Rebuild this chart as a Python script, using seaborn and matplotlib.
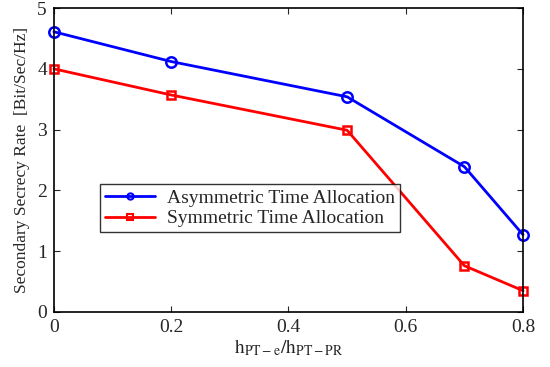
import matplotlib
matplotlib.use("Agg")
import matplotlib.pyplot as plt
from matplotlib.lines import Line2D
import seaborn as sns
import pandas as pd

ratio = [0, 0.2, 0.5, 0.7, 0.8]
asym = [4.61, 4.12, 3.54, 2.39, 1.27]
sym = [4.00, 3.57, 2.99, 0.76, 0.35]
labels = ["Asymmetric Time Allocation", "Symmetric Time Allocation"]
colors = ["#0000ff", "#ff0000"]
marks = ["o", "s"]

sns.set_theme(style="ticks")
plt.rcParams['font.family'] = ['Liberation Serif', 'DejaVu Serif']
plt.rcParams['mathtext.fontset'] = 'stix'

df = pd.DataFrame({
    "x": ratio * 2,
    "y": asym + sym,
    "series": [labels[0]] * len(ratio) + [labels[1]] * len(ratio),
})

fig = plt.figure(figsize=(5.5, 3.67), dpi=100)
ax = fig.add_axes([0.098, 0.150, 0.853, 0.828])
sns.lineplot(data=df, x="x", y="y", hue="series", style="series",
             palette=colors, markers=marks, dashes=False,
             linewidth=2, markersize=7, markerfacecolor="none",
             markeredgewidth=1.8, ax=ax, legend=False)
for line, c, ms in zip(ax.lines[:2], colors, [7.5, 6]):
    line.set_markeredgecolor(c)
    line.set_markerfacecolor("none")
    line.set_markersize(ms)
    line.set_clip_on(False)

ax.set_xlim(0, 0.8)
ax.set_ylim(0, 5)
ax.set_xticks([0, 0.2, 0.4, 0.6, 0.8])
ax.set_xticklabels(["0", "0.2", "0.4", "0.6", "0.8"])
ax.set_yticks([0, 1, 2, 3, 4, 5])
ax.tick_params(direction="in", top=True, right=True, labelsize=14, length=4, width=0.8, pad=5)
for s in ax.spines.values():
    s.set_linewidth(1.2)
    s.set_color("black")
ax.set_xlabel(r"$\mathrm{h}_{\mathrm{PT-e}}/\mathrm{h}_{\mathrm{PT-PR}}$", fontsize=14, labelpad=1)
ax.set_ylabel("Secondary Secrecy Rate  [Bit/Sec/Hz]", fontsize=12.5, labelpad=5)

handles = [Line2D([], [], color=c, marker=m, linewidth=2, markersize=4.5,
                  markerfacecolor="none", markeredgecolor=c, markeredgewidth=1.5)
           for c, m in zip(colors, marks)]
leg = ax.legend(handles, labels, loc="upper left", bbox_to_anchor=(0.098, 0.42),
                fontsize=14, frameon=True, fancybox=False, edgecolor="black",
                borderpad=0.25, handlelength=2.6, handletextpad=0.6,
                labelspacing=0.15, borderaxespad=0)
leg.get_frame().set_linewidth(1.0)

fig.savefig("out.png", dpi=100)
